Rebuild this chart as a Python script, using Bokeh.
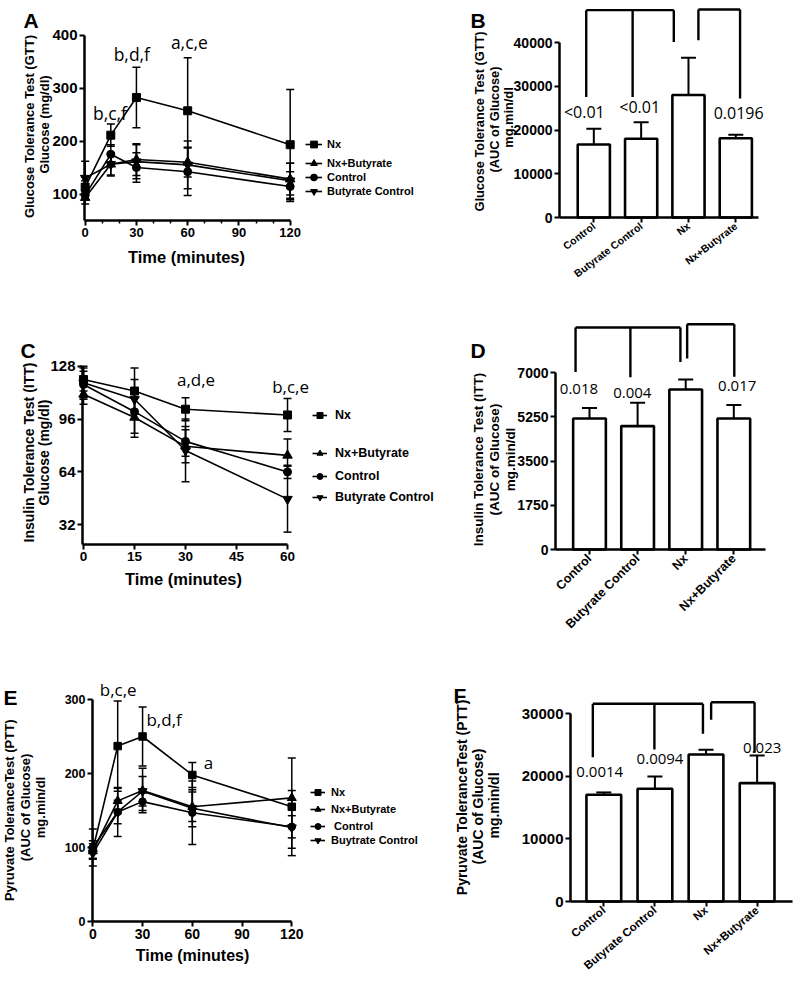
from math import pi
from bokeh.plotting import figure
from bokeh.models import (Range1d, FixedTicker, Whisker, ColumnDataSource, Label,
                          Legend, LegendItem, TeeHead, LinearAxis)
from bokeh.layouts import row, column
from bokeh.embed import file_html
from bokeh.resources import INLINE
from bokeh.core.properties import value

SANS = "Liberation Sans"
ANNO = "Open Sans"

# ------------------------------------------------------------------ data
series_names = ["Nx", "Nx+Butyrate", "Control", "Butyrate Control"]
series_markers = ["square", "triangle", "circle", "inverted_triangle"]

# A: glucose tolerance test
gtt_time = [0, 15, 30, 60, 120]
gtt_nx = [113, 211, 282, 257, 193]
gtt_nx_err = [12, 21, 57, 100, 104]
gtt_nxb = [93, 156, 165, 160, 128]
gtt_nxb_err = [12, 20, 30, 28, 30]
gtt_ctrl = [98, 175, 150, 142, 114]
gtt_ctrl_err = [10, 18, 28, 45, 28]
gtt_bctrl = [130, 156, 161, 155, 125]
gtt_bctrl_err = [32, 22, 32, 45, 33]
gtt_sig_text = ["b,c,f", "b,d,f", "a,c,e"]
gtt_sig_pos = [(14.5, 253), (27.3, 364), (61, 386)]

# C: insulin tolerance test
itt_time = [0, 15, 30, 60]
itt_nx = [120, 113, 102, 98.5]
itt_nx_err = [7, 14, 7, 10]
itt_nxb = [111, 97, 79.5, 74]
itt_nxb_err = [6, 12, 10, 10]
itt_ctrl = [117, 100.5, 82.5, 64]
itt_ctrl_err = [8, 13, 9, 4]
itt_bctrl = [118, 108, 77, 47.5]
itt_bctrl_err = [10, 12, 19, 20]
itt_sig_text = ["a,d,e", "b,c,e"]
itt_sig_pos = [(33.1, 119.8), (60.9, 115.7)]

# E: pyruvate tolerance test
ptt_time = [0, 15, 30, 60, 120]
ptt_nx = [97, 237, 250, 198, 155]
ptt_nx_err = [12, 61, 40, 17, 66]
ptt_nxb = [95, 163, 177, 155, 167]
ptt_nxb_err = [10, 17, 30, 20, 10]
ptt_ctrl = [100, 148, 162, 147, 128]
ptt_ctrl_err = [25, 16, 12, 43, 15]
ptt_bctrl = [92, 148, 176, 153, 127]
ptt_bctrl_err = [8, 33, 20, 25, 28]
ptt_legend = ["Nx", "Nx+Butyrate", " Control", "Buytrate Control"]
ptt_sig_text = ["b,c,e", "b,d,f", "a"]
ptt_sig_pos = [(15.3, 313), (43, 273), (69.8, 215)]

# bar charts
bar_groups = ["Control", "Butyrate Control", "Nx", "Nx+Butyrate"]
gtt_auc = [16700, 18000, 28000, 18100]
gtt_auc_err = [3600, 3800, 8500, 800]
gtt_p_text = ["<0.01", "<0.01", "0.0196"]
gtt_p_pos = [(0.80, 24100), (1.97, 25300), (4.06, 23800)]
gtt_br_top = [47400, 47540]
gtt_br_legs = [[0.84, 1.82, 2.69], [3.21, 4.09]]
gtt_br_ends = [[27570, 27570, 40140], [40530, 27200]]

itt_auc = [5180, 4880, 6330, 5180]
itt_auc_err = [420, 920, 390, 530]
itt_p_text = ["0.018", "0.004", "0.017"]
itt_p_pos = [(0.78, 6330), (1.89, 6195), (4.07, 6460)]
itt_br_top = [8780, 8910]
itt_br_legs = [[0.71, 1.85, 2.89], [3.03, 4.01]]
itt_br_ends = [[7020, 6810, 7420], [7550, 6830]]

ptt_auc = [17050, 18010, 23500, 18920]
ptt_auc_err = [380, 1970, 750, 4420]
ptt_p_text = ["0.0014", "0.0094", "0.023"]
ptt_p_pos = [(0.92, 20670), (2.10, 22810), (4.10, 24570)]
ptt_br_top = [31600, 31850]
ptt_br_legs = [[0.785, 1.99, 2.94], [3.10, 3.95]]
ptt_br_ends = [[23065, 24295, 26800], [29040, 23770]]


# ------------------------------------------------------------------ helpers
def make_fig(g):
    sx, sy = g["sx"], g["sy"]
    xs0 = g["x0"] - (g["fl"] - g["ox"]) / sx
    ys0 = g["y0"] - (g["oy"] + g["h"] - g["fb"]) / sy
    p = figure(width=g["w"], height=g["h"],
               x_range=Range1d(xs0, xs0 + g["w"] / sx),
               y_range=Range1d(ys0, ys0 + g["h"] / sy),
               output_backend="svg", toolbar_location=None, min_border=0,
               x_axis_location=None, y_axis_location=None)
    p.add_layout(LinearAxis(fixed_location=g["y0"]), "below")
    p.add_layout(LinearAxis(fixed_location=g["x0"]), "left")
    p.grid.visible = False
    p.outline_line_color = None
    for ax in (p.xaxis, p.yaxis):
        ax.axis_line_width = 2.5
        ax.axis_line_color = "black"
        ax.major_tick_line_width = 2
        ax.major_tick_line_color = "black"
        ax.major_tick_out = 5
        ax.major_tick_in = 0
        ax.minor_tick_line_width = 1.5
        ax.minor_tick_line_color = "black"
        ax.minor_tick_out = 3
        ax.minor_tick_in = 0
        ax.major_label_standoff = 2
        ax.major_label_text_font = SANS
        ax.major_label_text_font_style = "bold"
        ax.major_label_text_color = "black"
    return p


def plab(p, g, px, py, text, size, style="bold", font=SANS, angle=0,
         align="center", baseline="middle"):
    p.add_layout(Label(x=px - g["ox"], y=g["oy"] + g["h"] - py, x_units="screen",
                       y_units="screen", text=text, angle=angle, text_align=align,
                       text_baseline=baseline, text_font=font,
                       text_font_size=size, text_font_style=style,
                       text_color="black"))


def dlab(p, x, y, text, size):
    p.add_layout(Label(x=x, y=y, text=text, text_align="center",
                       text_baseline="middle", text_font=ANNO,
                       text_font_size=size, text_color="black"))


def line_panel(g, t, vals_list, err_list, legend_labels, leg, xticks, xminor,
               yticks, ybounds, xsize, ysize, msize):
    p = make_fig(g)
    rends = []
    for vals, errs, mk in zip(vals_list, err_list, series_markers):
        ln = p.line(t, vals, line_color="black", line_width=1.6)
        src = ColumnDataSource(dict(x=t, u=[v + e for v, e in zip(vals, errs)],
                                    l=[v - e for v, e in zip(vals, errs)]))
        p.add_layout(Whisker(source=src, base="x", upper="u", lower="l",
                             line_color="black", line_width=1.5,
                             upper_head=TeeHead(size=8, line_width=1.5, line_color="black"),
                             lower_head=TeeHead(size=8, line_width=1.5, line_color="black")))
        sz = msize + (1.5 if "triangle" in mk else 0)
        sc = p.scatter(t, vals, marker=mk, size=sz, fill_color="black",
                       line_color="black")
        rends.append([ln, sc])
    p.xaxis.ticker = FixedTicker(ticks=xticks, minor_ticks=xminor)
    p.yaxis.ticker = FixedTicker(ticks=yticks, minor_ticks=[])
    p.xaxis.bounds = (g["x0"], xticks[-1])
    p.yaxis.bounds = ybounds
    p.xaxis.major_label_text_font_size = xsize
    p.yaxis.major_label_text_font_size = ysize
    gx, gw, stand, lsize, centers = leg
    for rr, lab, cy in zip(rends, legend_labels, centers):
        lg = Legend(items=[LegendItem(label=value(lab), renderers=rr)],
                    location=(gx - g["ox"], g["oy"] + g["h"] - cy - 9),
                    glyph_width=gw, glyph_height=18, label_height=18,
                    label_standoff=stand, padding=0, margin=0, spacing=0,
                    border_line_alpha=0, background_fill_alpha=0,
                    label_text_font=SANS, label_text_font_style="bold",
                    label_text_font_size=lsize, label_text_color="black")
        p.add_layout(lg)
    return p


def bar_panel(g, vals, errs, yticks, ybound, xend, xsize, ysize, angle,
              br_top, br_legs, br_ends, p_text, p_pos, psize):
    p = make_fig(g)
    xs = list(range(1, len(bar_groups) + 1))
    p.vbar(x=xs, top=vals, bottom=0, width=0.68, fill_color="white",
           line_color="black", line_width=2.6)
    src = ColumnDataSource(dict(x=xs, u=[v + e for v, e in zip(vals, errs)], l=vals))
    p.add_layout(Whisker(source=src, base="x", upper="u", lower="l",
                         line_color="black", line_width=2,
                         upper_head=TeeHead(size=15, line_width=2, line_color="black"),
                         lower_head=None))
    x0s, y0s, x1s, y1s = [], [], [], []
    for top, legs, ends in zip(br_top, br_legs, br_ends):
        x0s.append(min(legs)); x1s.append(max(legs)); y0s.append(top); y1s.append(top)
        for lx, le in zip(legs, ends):
            x0s.append(lx); x1s.append(lx); y0s.append(top); y1s.append(le)
    p.segment(x0s, y0s, x1s, y1s, line_color="black", line_width=2.4)
    for txt, (px, py) in zip(p_text, p_pos):
        dlab(p, px, py, txt, psize)
    p.xaxis.ticker = FixedTicker(ticks=xs, minor_ticks=[])
    p.xaxis.major_label_overrides = {x: lab for x, lab in zip(xs, bar_groups)}
    p.xaxis.major_label_orientation = angle
    p.yaxis.ticker = FixedTicker(ticks=yticks, minor_ticks=[])
    p.xaxis.bounds = (g["x0"], xend)
    p.yaxis.bounds = (0, ybound)
    p.xaxis.major_label_text_font_size = xsize
    p.yaxis.major_label_text_font_size = ysize
    return p


# ------------------------------------------------------------------ geometry (page px)
gA = dict(ox=0, oy=0, w=450, h=300, fl=84, fb=220, x0=-0.4, sx=1.7083, y0=50, sy=0.53)
gB = dict(ox=450, oy=0, w=345, h=300, fl=559, fb=217, x0=0.275, sx=47.33, y0=0, sy=175 / 40000)
gC = dict(ox=0, oy=300, w=450, h=320, fl=82, fb=544, x0=-0.3, sx=3.4, y0=20, sy=1.65)
gD = dict(ox=450, oy=300, w=345, h=355, fl=555, fb=549, x0=0.293, sx=48.1, y0=0, sy=177 / 7000)
gE = dict(ox=0, oy=620, w=450, h=368, fl=92, fb=921, x0=-0.2, sx=1.658, y0=0, sy=0.74)
gF = dict(ox=450, oy=655, w=345, h=333, fl=570, fb=901, x0=0.348, sx=51.1, y0=0, sy=187.7 / 30000)

# ------------------------------------------------------------------ panel A
pA = line_panel(gA, gtt_time, [gtt_nx, gtt_nxb, gtt_ctrl, gtt_bctrl],
                [gtt_nx_err, gtt_nxb_err, gtt_ctrl_err, gtt_bctrl_err], series_names,
                (305, 17, 5, "11px", [144, 163, 177, 191]),
                [0, 30, 60, 90, 120], [10, 20, 40, 50, 70, 80, 100, 110],
                [100, 200, 300, 400], (50, 400), "13px", "15px", 8)
for txt, (x, y) in zip(gtt_sig_text, gtt_sig_pos):
    dlab(pA, x, y, txt, "17.5px")
plab(pA, gA, 23, 20, "A", "21px", baseline="alphabetic", align="left")
plab(pA, gA, 29, 126, "Glucose Tolerance Test (GTT)", "13px", angle=pi / 2)
plab(pA, gA, 44, 124, "Glucose (mg/dl)", "13px", angle=pi / 2)
plab(pA, gA, 186, 256, "Time (minutes)", "16.5px")

# ------------------------------------------------------------------ panel B
pB = bar_panel(gB, gtt_auc, gtt_auc_err, [0, 10000, 20000, 30000, 40000], 40000, 4.48,
               "10.5px", "14px", 0.65, gtt_br_top, gtt_br_legs, gtt_br_ends,
               gtt_p_text, gtt_p_pos, "16px")
plab(pB, gB, 470, 20, "B", "21px", baseline="alphabetic", align="left")
plab(pB, gB, 479, 121, "Glucose Tolerance Test (GTT)", "12.8px", angle=pi / 2)
plab(pB, gB, 494, 119, "(AUC of Glucose)", "12.8px", angle=pi / 2)
plab(pB, gB, 508, 117, "mg.min/dl", "12.8px", angle=pi / 2)

# ------------------------------------------------------------------ panel C
pC = line_panel(gC, itt_time, [itt_nx, itt_nxb, itt_ctrl, itt_bctrl],
                [itt_nx_err, itt_nxb_err, itt_ctrl_err, itt_bctrl_err], series_names,
                (312, 15, 8, "12.5px", [415, 453, 476, 497]),
                [0, 15, 30, 45, 60], [], [32, 64, 96, 128], (20, 128),
                "13.5px", "15px", 8)
for txt, (x, y) in zip(itt_sig_text, itt_sig_pos):
    dlab(pC, x, y, txt, "17px")
plab(pC, gC, 20, 350, "C", "21px", baseline="alphabetic", align="left")
plab(pC, gC, 28, 452, "Insulin Tolerance Test (ITT)", "14px", angle=pi / 2)
plab(pC, gC, 43, 452, "Glucose (mg/dl)", "14px", angle=pi / 2)
plab(pC, gC, 183, 578, "Time (minutes)", "16.5px")

# ------------------------------------------------------------------ panel D
pD = bar_panel(gD, itt_auc, itt_auc_err, [0, 1750, 3500, 5250, 7000], 7000, 4.66,
               "12.5px", "14px", pi / 4, itt_br_top, itt_br_legs, itt_br_ends,
               itt_p_text, itt_p_pos, "15px")
plab(pD, gD, 470, 350, "D", "21px", baseline="alphabetic", align="left")
plab(pD, gD, 478, 459, "Insulin Tolerance Test (ITT)", "13.5px", angle=pi / 2)
plab(pD, gD, 494, 459, "(AUC of Glucose)", "13.5px", angle=pi / 2)
plab(pD, gD, 510, 459, "mg.min/dl", "13.5px", angle=pi / 2)

# ------------------------------------------------------------------ panel E
pE = line_panel(gE, ptt_time, [ptt_nx, ptt_nxb, ptt_ctrl, ptt_bctrl],
                [ptt_nx_err, ptt_nxb_err, ptt_ctrl_err, ptt_bctrl_err], ptt_legend,
                (310, 15, 6, "11px", [792, 809, 826, 840]),
                [0, 30, 60, 90, 120], [], [0, 100, 200, 300], (0, 300),
                "14px", "12.5px", 7.5)
for txt, (x, y) in zip(ptt_sig_text, ptt_sig_pos):
    dlab(pE, x, y, txt, "17px")
plab(pE, gE, 3, 697, "E", "21px", baseline="alphabetic", align="left")
plab(pE, gE, 9, 808, "Pyruvate ToleranceTest  (PTT)", "13px", angle=pi / 2)
plab(pE, gE, 25, 807, "(AUC of Glucose)", "13px", angle=pi / 2)
plab(pE, gE, 40, 807, "mg.min/dl", "13px", angle=pi / 2)
plab(pE, gE, 192, 955, "Time (minutes)", "16px")

# ------------------------------------------------------------------ panel F
pF = bar_panel(gF, ptt_auc, ptt_auc_err, [0, 10000, 20000, 30000], 30000, 4.69,
               "11.5px", "15px", 0.7, ptt_br_top, ptt_br_legs, ptt_br_ends,
               ptt_p_text, ptt_p_pos, "15px")
plab(pF, gF, 453, 695, "F", "21px", baseline="alphabetic", align="left")
plab(pF, gF, 461, 795, "Pyruvate ToleranceTest  (PTT)", "14px", angle=pi / 2)
plab(pF, gF, 477, 806, "(AUC of Glucose)", "14px", angle=pi / 2)
plab(pF, gF, 493, 805, "mg.min/dl", "14px", angle=pi / 2)

layout = row(column(pA, pC, pE), column(pB, pD, pF))
open("out.html", "w").write(file_html(layout, INLINE))
